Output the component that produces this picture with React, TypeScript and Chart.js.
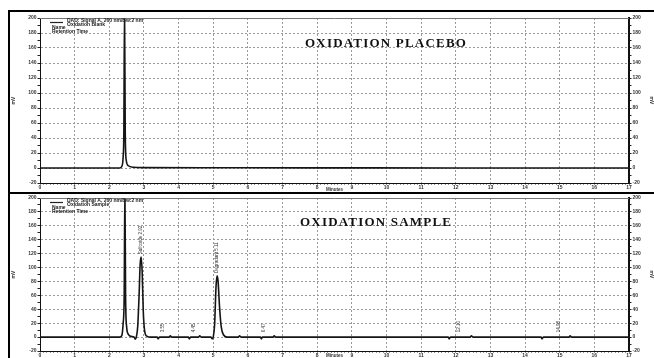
import React, { useEffect, useRef } from 'react';
import { Chart, registerables } from 'chart.js';

Chart.register(...registerables);

// ---- Data ----
const X_MIN = 0;
const X_MAX = 17;
const Y_MIN = -20;
const Y_MAX = 200;

const placeboTimes = [0, 1.0, 2.0, 2.3, 2.36, 2.4, 2.42, 2.44, 2.46, 2.49, 2.55, 2.7, 3.0, 5.0, 8.0, 12.0, 17.0];
const placeboValues = [0, 0, 0, 0, 2, 15, 48, 215, 48, 10, 3, 1, 0.5, 0.3, 0.2, 0, 0];

const sampleTimes = [
  0, 2.3, 2.36, 2.4, 2.43, 2.45, 2.47, 2.5, 2.55, 2.62, 2.72, 2.75, 2.78,
  2.82, 2.86, 2.89, 2.92, 2.95, 2.98, 3.02, 3.08, 3.2, 3.38, 3.41, 3.45,
  3.73, 3.76, 3.8, 4.28, 4.31, 4.35, 4.58, 4.61, 4.65, 4.93, 4.97, 5.0,
  5.04, 5.08, 5.11, 5.14, 5.18, 5.23, 5.3, 5.4, 5.73, 5.76, 5.8, 6.36,
  6.39, 6.42, 6.73, 6.76, 6.8, 11.78, 11.81, 11.85, 12.42, 12.45, 12.5,
  14.46, 14.49, 14.53, 15.27, 15.3, 15.34, 17.0,
];
const sampleValues = [
  0, 0, 2, 20, 60, 215, 60, 15, 4, 1, 0, -3, 0,
  15, 60, 104, 115, 92, 38, 9, 1.5, 0, 0, -2.5, 0,
  0, 2, 0, 0, -2.5, 0, 0, 2, 0, 0, -2.5, 0,
  18, 72, 88, 80, 45, 15, 3, 0, 0, 2, 0, 0,
  -2.5, 0, 0, 2, 0, 0, -2.5, 0, 0, 2, 0,
  0, -2.5, 0, 0, 2, 0, 0,
];

const peakLabelTimes = [2.92, 3.55, 4.45, 5.11, 6.47, 12.1, 14.98];
const peakLabelTexts = ['Sulfoxide 2.92', '3.55', '4.45', 'Degradant 5.11', '6.47', '12.10', '14.98'];
const peakLabelBase = [119, 7, 7, 92, 7, 7, 7];

const legendSignal = 'DAD: Signal A, 260 nm/Bw:2 nm';
const sampleNames = ['Oxidation Blank', 'Oxidation Sample'];
const panelTitles = ['OXIDATION PLACEBO', 'OXIDATION SAMPLE'];

// ---- helpers ----
const isMult = (v: number, m: number) => Math.abs(v / m - Math.round(v / m)) < 1e-6;
const tickFont = { family: '"Liberation Sans", Arial, sans-serif', size: 5, weight: 'bold' as const };
const GRID = '#9a9a9a';
const CLEAR = 'rgba(0,0,0,0)';

const overlayPlugin = {
  id: 'overlay',
  afterDraw(chart: any, _args: any, o: any) {
    const { ctx, chartArea, scales } = chart;
    const xs = scales.x;
    const ys = scales.y;
    ctx.save();
    // top border of plot area
    ctx.strokeStyle = '#777';
    ctx.lineWidth = 1;
    ctx.beginPath();
    ctx.moveTo(chartArea.left, chartArea.top + 0.5);
    ctx.lineTo(chartArea.right, chartArea.top + 0.5);
    ctx.stroke();

    // legend block
    const lx = chartArea.left;
    const ty = chartArea.top;
    ctx.fillStyle = '#222';
    ctx.strokeStyle = '#222';
    ctx.font = 'bold 5px "Liberation Sans", Arial, sans-serif';
    ctx.textBaseline = 'middle';
    ctx.textAlign = 'left';
    ctx.lineWidth = 1.2;
    ctx.beginPath();
    ctx.moveTo(lx + 10, ty + 4.5);
    ctx.lineTo(lx + 23, ty + 4.5);
    ctx.stroke();
    ctx.fillText(legendSignal, lx + 27, ty + 2.7);
    ctx.fillText(o.sampleName, lx + 27, ty + 6.2);
    ctx.fillText('Name', lx + 12, ty + 9.8);
    ctx.fillText('Retention Time', lx + 12, ty + 13.7);

    // peak labels (rotated)
    const times: number[] = o.labelTimes || [];
    const texts: string[] = o.labelTexts || [];
    const bases: number[] = o.labelBase || [];
    ctx.font = '4.5px "Liberation Sans", Arial, sans-serif';
    ctx.fillStyle = '#333';
    for (let i = 0; i < times.length; i++) {
      const px = xs.getPixelForValue(times[i]);
      const py = ys.getPixelForValue(bases[i]);
      ctx.save();
      ctx.translate(px, py);
      ctx.rotate(-Math.PI / 2);
      ctx.textAlign = 'left';
      ctx.textBaseline = 'middle';
      ctx.fillText(texts[i], 0, 0);
      ctx.restore();
    }

    // axis title
    ctx.font = 'bold 4.5px "Liberation Sans", Arial, sans-serif';
    ctx.fillStyle = '#333';
    ctx.textAlign = 'center';
    ctx.textBaseline = 'bottom';
    ctx.fillText('Minutes', (chartArea.left + chartArea.right) / 2, chart.height);
    ctx.restore();
  },
};

function yAxis(position: 'left' | 'right', width: number) {
  const isLeft = position === 'left';
  return {
    type: 'linear' as const,
    position,
    min: Y_MIN,
    max: Y_MAX,
    ticks: {
      stepSize: 10,
      autoSkip: false,
      font: tickFont,
      color: '#333',
      padding: 1,
      callback: (v: any) => (isMult(v, 20) ? String(v) : ''),
    },
    grid: {
      drawOnChartArea: isLeft,
      color: (c: any) => {
        const v = c.tick ? c.tick.value : NaN;
        return isLeft && isMult(v, 20) && v > Y_MIN && v < Y_MAX ? GRID : CLEAR;
      },
      tickColor: '#222',
      tickLength: 2.5,
      drawTicks: true,
    },
    border: { display: true, color: '#111', width: isLeft ? 1 : 2, dash: [2, 2] },
    title: {
      display: true,
      text: 'mV',
      color: '#333',
      font: { family: '"Liberation Sans", Arial, sans-serif', size: 5, weight: 'bold' as const },
      padding: 0,
    },
    afterFit: (s: any) => {
      s.width = width;
    },
  };
}

function makeConfig(times: number[], values: number[], p: any) {
  const data = times.map((t, i) => ({ x: t, y: values[i] }));
  return {
    type: 'line' as const,
    data: {
      datasets: [
        {
          data,
          borderColor: '#151515',
          borderWidth: 1.6,
          pointRadius: 0,
          cubicInterpolationMode: 'monotone' as const,
          fill: false,
        },
      ],
    },
    options: {
      responsive: false,
      animation: false as const,
      parsing: false as const,
      layout: { padding: { top: p.padTop, left: 0, right: 0, bottom: 0 } },
      plugins: {
        legend: { display: false },
        tooltip: { enabled: false },
        overlay: {
          sampleName: p.sampleName,
          labelTimes: p.labelTimes,
          labelTexts: p.labelTexts,
          labelBase: p.labelBase,
        },
      },
      scales: {
        x: {
          type: 'linear' as const,
          min: X_MIN,
          max: X_MAX,
          ticks: {
            stepSize: 0.1,
            autoSkip: false,
            maxRotation: 0,
            font: tickFont,
            color: '#333',
            padding: 0,
            callback: (v: any) => (isMult(v, 1) ? String(Math.round(v)) : ''),
          },
          grid: {
            color: (c: any) => {
              const v = c.tick ? c.tick.value : NaN;
              return isMult(v, 1) && v > X_MIN && v < X_MAX ? GRID : CLEAR;
            },
            tickColor: '#222',
            tickLength: 1.5,
            drawTicks: true,
          },
          border: { display: true, color: '#111', width: 1, dash: [2, 2] },
          afterFit: (s: any) => {
            s.height = p.xHeight;
          },
        },
        y: yAxis('left', 29),
        y2: yAxis('right', 25),
      },
    },
    plugins: [overlayPlugin],
  };
}

function Panel(props: {
  top: number;
  height: number;
  padTop: number;
  xHeight: number;
  times: number[];
  values: number[];
  sampleName: string;
  labels?: boolean;
}) {
  const ref = useRef<HTMLCanvasElement | null>(null);
  useEffect(() => {
    if (!ref.current) return;
    const cfg: any = makeConfig(props.times, props.values, {
      padTop: props.padTop,
      xHeight: props.xHeight,
      sampleName: props.sampleName,
      labelTimes: props.labels ? peakLabelTimes : [],
      labelTexts: props.labels ? peakLabelTexts : [],
      labelBase: props.labels ? peakLabelBase : [],
    });
    const chart = new Chart(ref.current, cfg);
    return () => chart.destroy();
  }, []);
  return (
    <canvas
      ref={ref}
      width={643}
      height={props.height}
      style={{ position: 'absolute', left: 11, top: props.top, width: 643, height: props.height }}
    />
  );
}

const titleStyle: React.CSSProperties = {
  position: 'absolute',
  fontFamily: '"Liberation Serif", "Times New Roman", serif',
  fontSize: 13,
  fontWeight: 'bold',
  letterSpacing: 1.2,
  color: '#111',
  whiteSpace: 'nowrap',
  lineHeight: '14px',
};

export default function App() {
  return (
    <div
      style={{
        position: 'absolute',
        left: 0,
        top: 0,
        width: 654,
        height: 358,
        background: '#fff',
        overflow: 'hidden',
      }}
    >
      <Panel top={12} height={180} padTop={6} xHeight={9} times={placeboTimes} values={placeboValues} sampleName={sampleNames[0]} />
      <Panel top={194} height={164} padTop={4} xHeight={7} times={sampleTimes} values={sampleValues} sampleName={sampleNames[1]} labels />
      <div style={{ position: 'absolute', left: 8, top: 10, width: 646, height: 2, background: '#000' }} />
      <div style={{ position: 'absolute', left: 8, top: 10, width: 2, height: 348, background: '#000' }} />
      <div style={{ position: 'absolute', left: 8, top: 192, width: 646, height: 2, background: '#000' }} />
      <div style={{ ...titleStyle, left: 305, top: 36 }}>{panelTitles[0]}</div>
      <div style={{ ...titleStyle, left: 300, top: 215 }}>{panelTitles[1]}</div>
    </div>
  );
}
